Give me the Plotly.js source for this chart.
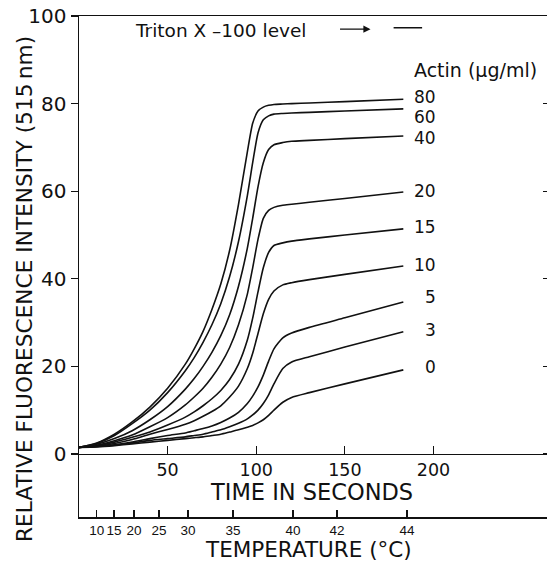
<!DOCTYPE html>
<html>
<head>
<meta charset="utf-8">
<script src="https://cdn.plot.ly/plotly-3.0.1.min.js"></script>
<style>
html,body{margin:0;padding:0;background:#fff;overflow:hidden;}
#chart{width:552px;height:564px;}
</style>
</head>
<body>
<div id="chart"></div>
<script>
// ---- data ----
const timeSeconds = [0,10,20,30,40,50,60,65,70,75,80,85,90,95,98,101,104,107,110,115,120,130,150,183];
const actinLevels = ['80','60','40','20','15','10','5','3','0'];
const actin80 = [1.5,2.5,4.5,7.3,10.7,15,20.5,24,28,33,38.8,46.5,57,69,75.5,78.3,79.2,79.6,79.8,79.9,80,80.15,80.45,81];
const actin60 = [1.5,2.4,4.2,6.9,10,14,19,22,25.5,29.5,34.3,40.5,48.5,59,66.5,73.3,76.3,77.2,77.6,77.75,77.85,78,78.3,78.8];
const actin40 = [1.5,2.2,3.5,5.3,7.8,10.8,14.8,17.2,20,23.2,27,31.8,38.3,47,53.8,61,66.5,69.5,70.6,71.1,71.4,71.6,72,72.6];
const actin20 = [1.5,2,3,4.3,6.2,8.3,11.2,13,15,17.5,20.5,24.3,29.5,36.5,42.5,49,53.8,55.6,56.3,56.8,57.02,57.46,58.34,59.8];
const actin15 = [1.5,1.9,2.7,3.8,5,6.6,8.4,9.6,11,12.6,14.5,17,20.5,26,31,37,42.5,46,47.6,48.2,48.6,49.1,50,51.4];
const actin10 = [1.5,1.8,2.4,3.3,4.5,5.6,6.8,7.6,8.6,9.7,11,13,15.5,19.5,23,27.5,32,35.3,37.2,38.6,39.1,39.8,41,42.9];
const actin5  = [1.5,1.7,2.1,2.7,3.5,4.2,4.8,5.3,5.8,6.4,7.2,8.2,9.5,11.5,13.2,15.3,18,21.2,24,26.5,27.6,28.9,31.1,34.7];
const actin3  = [1.5,1.7,2,2.5,3.1,3.5,3.9,4.2,4.5,5,5.5,6.2,7,8,8.9,10,11.5,13.5,16,19.5,21,22.2,24.4,27.9];
const actin0  = [1.5,1.6,1.9,2.3,2.7,3.1,3.5,3.7,3.9,4.2,4.5,5,5.5,6.1,6.5,7.1,7.8,8.8,10,11.8,12.9,14,16,19.2];
const seriesValues = [actin80,actin60,actin40,actin20,actin15,actin10,actin5,actin3,actin0];

const timeTicks = [50,100,150,200];
const yTicks = [0,20,40,60,80,100];
const tempTickLabels = ['10','15','20','25','30','35','40','42','44'];
const tempTickTimes = [10,19.8,31,45.1,61.5,86.9,120.8,145.6,185.1];
const tritonLevel = 97.3;

// ---- styles ----
const FONT = 'DejaVu Sans, sans-serif';
const INK = '#111';
const labelYShiftPx = [2,-8,-2,1,2,1,5,2,3];

const traces = seriesValues.map((vals, i) => ({
  x: timeSeconds, y: vals, type: 'scatter', mode: 'lines',
  name: actinLevels[i],
  line: {color: INK, width: 1.6, shape: 'spline', smoothing: 0.6},
  hoverinfo: 'skip', showlegend: false, xaxis: 'x', yaxis: 'y'
}));
traces.push({x: [], y: [], type: 'scatter', mode: 'lines', xaxis: 'x2', yaxis: 'y2', showlegend: false, hoverinfo: 'skip'});

const xRange = [0, 265.2];
const yRange = [-14.4, 100];

const annotations = [];
seriesValues.forEach((vals, i) => {
  annotations.push({
    x: timeSeconds[timeSeconds.length-1], y: vals[vals.length-1], xref: 'x', yref: 'y',
    text: actinLevels[i], showarrow: false, xanchor: 'right', yanchor: 'middle',
    xshift: 35, yshift: labelYShiftPx[i], font: {family: FONT, size: 17, color: INK}
  });
});
annotations.push({x: 223.8, y: 87.7, xref: 'x', yref: 'y', text: 'Actin (\u03bcg/ml)', showarrow: false,
  xanchor: 'center', yanchor: 'middle', font: {family: FONT, size: 19, color: INK}});
annotations.push({x: 79.9, y: tritonLevel - 0.5, xref: 'x', yref: 'y', text: 'Triton X \u2013100 level', showarrow: false,
  xanchor: 'center', yanchor: 'middle', font: {family: FONT, size: 18.5, color: INK}});
annotations.push({x: 164.5, y: tritonLevel - 0.3, xref: 'x', yref: 'y', ax: -32, ay: 0, text: '', showarrow: true,
  arrowhead: 2, arrowsize: 1.1, arrowwidth: 1.3, arrowcolor: INK});
annotations.push({x: 193.6, y: tritonLevel, xref: 'x', yref: 'y', ax: -30, ay: 0, text: '', showarrow: true,
  arrowhead: 0, arrowwidth: 1.5, arrowcolor: INK, standoff: 0, startstandoff: 0});
annotations.push({x: -0.117, y: 0.455, xref: 'paper', yref: 'paper', text: 'RELATIVE FLUORESCENCE INTENSITY (515\u2009nm)',
  textangle: -90, showarrow: false, xanchor: 'center', yanchor: 'middle', font: {family: FONT, size: 21.7, color: INK}});
annotations.push({x: 0.494, y: 0.05, xref: 'paper', yref: 'paper', text: 'TIME IN SECONDS', showarrow: false,
  xanchor: 'center', yanchor: 'middle', font: {family: FONT, size: 22.5, color: INK}});
annotations.push({x: 0.488, y: -0.064, xref: 'paper', yref: 'paper', text: 'TEMPERATURE (\u00b0C)', showarrow: false,
  xanchor: 'center', yanchor: 'middle', font: {family: FONT, size: 21.5, color: INK}});

const layout = {
  width: 552, height: 564,
  margin: {l: 79, r: 3, t: 16, b: 47},
  paper_bgcolor: '#fff', plot_bgcolor: '#fff',
  showlegend: false,
  xaxis: {
    range: xRange, anchor: 'free', position: 14.4/114.4,
    showgrid: false, zeroline: false, showline: true, linecolor: INK, linewidth: 1.5,
    ticks: 'inside', ticklen: 8, tickwidth: 1.3, tickcolor: INK,
    tickmode: 'array', tickvals: timeTicks, ticktext: timeTicks.map(String), tickangle: 0,
    tickfont: {family: FONT, size: 17.5, color: INK}
  },
  xaxis2: {
    range: xRange, overlaying: 'x', anchor: 'y', side: 'bottom',
    showgrid: false, zeroline: false, showline: true, mirror: true, linecolor: INK, linewidth: 1.5,
    ticks: 'inside', ticklen: 7, tickwidth: 1.3, tickcolor: INK,
    tickmode: 'array', tickvals: tempTickTimes, ticktext: tempTickLabels, tickangle: 0,
    tickfont: {family: 'Liberation Sans, sans-serif', size: 13.5, color: INK}
  },
  yaxis: {
    range: yRange, anchor: 'x',
    showgrid: false, zeroline: false, showline: true, linecolor: INK, linewidth: 1.5,
    ticks: 'outside', ticklen: 7, tickwidth: 1.3, tickcolor: INK,
    tickmode: 'array', tickvals: yTicks, ticktext: yTicks.map(String),
    tickfont: {family: FONT, size: 20, color: INK}
  },
  yaxis2: {
    range: yRange, overlaying: 'y', side: 'right', anchor: 'x',
    showgrid: false, zeroline: false, showline: true, linecolor: INK, linewidth: 1.5,
    ticks: 'inside', ticklen: 6, tickwidth: 1.3, tickcolor: INK,
    tickmode: 'array', tickvals: yTicks, showticklabels: false
  },
  annotations: annotations
};

Plotly.newPlot('chart', traces, layout, {staticPlot: true, displayModeBar: false});
</script>
</body>
</html>
